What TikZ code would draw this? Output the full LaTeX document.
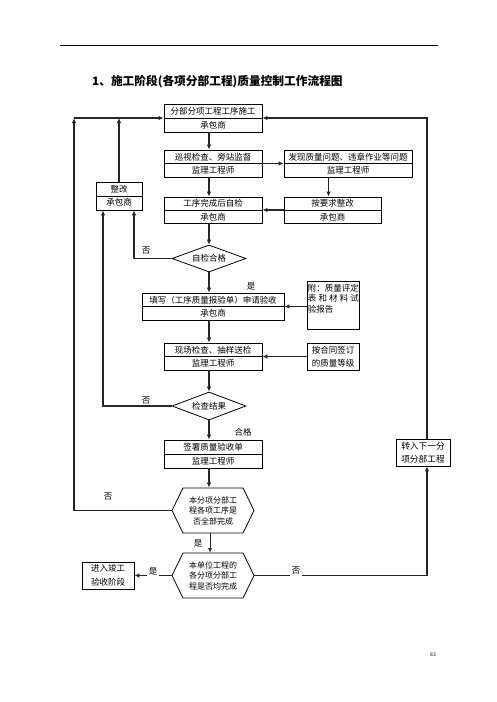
\documentclass[tikz,border=0pt]{standalone}
\usepackage{fontspec}
\setmainfont{Noto Sans CJK SC}
\usetikzlibrary{arrows.meta,shapes.geometric,shapes.symbols}
\tikzset{
  box/.style={draw, line width=0.8pt, inner sep=0pt, align=center, font=\fontsize{8.5}{13.5}\selectfont},
  two/.style={box, path picture={\draw[line width=0.8pt] (path picture bounding box.west) -- (path picture bounding box.east);}},
  dia/.style={draw, line width=0.8pt, diamond, aspect=2.7, inner sep=0pt, minimum width=74pt, minimum height=27pt, font=\fontsize{8.5}{10}\selectfont},
  hex/.style={draw, line width=0.8pt, signal, signal to=east and west, signal pointer angle=128, inner sep=0pt, minimum width=82pt, minimum height=45pt, align=center, font=\fontsize{8}{10.5}\selectfont},
  arr/.style={line width=1.1pt, draw=black!85, -{Latex[length=5pt,width=4.5pt]}},
  thin/.style={line width=0.8pt, draw=black!85, -{Latex[length=4.5pt,width=4pt]}},
  lbl/.style={font=\fontsize{8.5}{10}\selectfont, inner sep=1.5pt},
}
\begin{document}
\begin{tikzpicture}[x=1pt,y=-1pt]
\useasboundingbox (0,0) rectangle (496,702);
% header
\coordinate (ruleL) at (60,45);
\coordinate (ruleR) at (438,45);
\draw[line width=0.8pt] (ruleL) -- (ruleR);
\node[anchor=west, inner sep=0pt, font=\fontsize{11.7}{14}\selectfont\bfseries] (title) at (92,82) {1、施工阶段(各项分部工程)质量控制工作流程图};
% boxes
\node[two, minimum width=98pt, minimum height=28pt] (box1) at (213,118) {分部分项工程工序施工\\承包商};
\node[two, minimum width=98pt, minimum height=27pt] (box2) at (213,163.5) {巡视检查、旁站监督\\监理工程师};
\node[two, minimum width=128pt, minimum height=27pt] (box3) at (348,163.5) {发现质量问题、违章作业等问题\\监理工程师};
\node[two, minimum width=98pt, minimum height=26pt] (box4) at (213,210) {工序完成后自检\\承包商};
\node[two, minimum width=97pt, minimum height=26pt] (box5) at (332.5,210) {按要求整改\\承包商};
\node[two, minimum width=46pt, minimum height=28pt] (box6) at (119,196) {整改\\承包商};
\node[dia] (dia1) at (209,258.5) {自检合格};
\node[two, minimum width=142pt, minimum height=27pt] (box7) at (213,306.5) {填写（工序质量报验单）申请验收\\承包商};
\node[draw, line width=0.8pt, inner sep=0.5pt, anchor=north west, font=\fontsize{8.5}{10.5}\selectfont] (box8) at (307,281)
  {\parbox[t][47pt][t]{51pt}{\vspace{2pt}附：质量评定\\\makebox[51pt][s]{表\hfill 和\hfill 材\hfill 料\hfill 试}\\验报告}};
\node[two, minimum width=98pt, minimum height=27pt] (box9) at (213,356.5) {现场检查、抽样送检\\监理工程师};
\node[box, minimum width=52pt, minimum height=27pt, font=\fontsize{8.5}{13}\selectfont] (box10) at (333,356.5) {按合同签订\\的质量等级};
\node[dia, minimum height=28pt] (dia2) at (209,406) {检查结果};
\node[two, minimum width=98pt, minimum height=28pt] (box11) at (213,454) {签署质量验收单\\监理工程师};
\node[hex] (hex1) at (213,510.5) {本分项分部工\\程各项工序是\\否全部完成};
\node[hex] (hex2) at (213,575.5) {本单位工程的\\各分项分部工\\程是否均完成};
\node[box, minimum width=52pt, minimum height=27pt, font=\fontsize{8.5}{14}\selectfont] (box12) at (108,575.5) {进入竣工\\验收阶段};
\node[box, minimum width=54pt, minimum height=27pt, font=\fontsize{8.7}{12.5}\selectfont] (box13) at (423,452.5) {转入下一分\\项分部工程};
% corner coordinates
\coordinate (L) at (74,118);
\coordinate (R) at (427,118);
% connectors
\draw[arr] ([xshift=-4pt]box1.south) -- ([xshift=-4pt]box2.north);
\draw[arr] (box2.east) -- (box3.west);
\draw[arr] ([xshift=-4pt]box5.north |- box3.south) -- ([xshift=-4pt]box5.north);
\draw[arr] (box5.west) -- (box4.east);
\draw[arr] ([xshift=-4pt]box2.south) -- ([xshift=-4pt]box4.north);
\draw[arr] ([xshift=-4pt]box4.south) -- (dia1.north);
\draw[arr] (dia1.west) -| ([xshift=15pt]box6.south);
\draw[arr] (dia1.south) -- ([xshift=-4pt]box7.north);
\draw[arr] (box8.west |- box7.east) -- (box7.east);
\draw[arr] ([xshift=-4pt]box7.south) -- ([xshift=-4pt]box9.north);
\draw[arr] (box10.west) -- (box9.east);
\draw[arr] ([xshift=-4pt]box9.south) -- (dia2.north);
\draw[arr] (dia2.west) -| ([xshift=-16pt]box6.south);
\draw[arr] (dia2.south) -- ([xshift=-4pt]box11.north);
\draw[arr] ([xshift=-4pt]box11.south) -- ([xshift=-4pt]hex1.north);
\draw[thin] ([xshift=-3pt]hex1.south) -- ([xshift=-3pt]hex2.north);
\draw[arr] (box6.north) -- (box6.north |- box1.west);
\draw[arr] (hex1.west) -| (L);
\draw[arr] (L) -- (box1.west);
\draw[arr] ([xshift=4pt]box13.north) -- (R) -- (box1.east);
\draw[arr] (hex2.west) -- (box12.east);
\draw[arr] (hex2.east) -| ([xshift=4pt]box13.south);
% labels
\node[lbl] (n1) at (146,251) {否};
\node[lbl] (y1) at (251,286) {是};
\node[lbl] (n2) at (146,401) {否};
\node[lbl] (ok) at (243,432) {合格};
\node[lbl] (n3) at (108,497) {否};
\node[lbl] (y2) at (198,543) {是};
\node[lbl, fill=white] (y3) at (153,571) {是};
\node[lbl, fill=white] (n4) at (296,571) {否};
\node[inner sep=0pt, font=\fontsize{5}{6}\selectfont] (page) at (433,655) {83};
\end{tikzpicture}
\end{document}
